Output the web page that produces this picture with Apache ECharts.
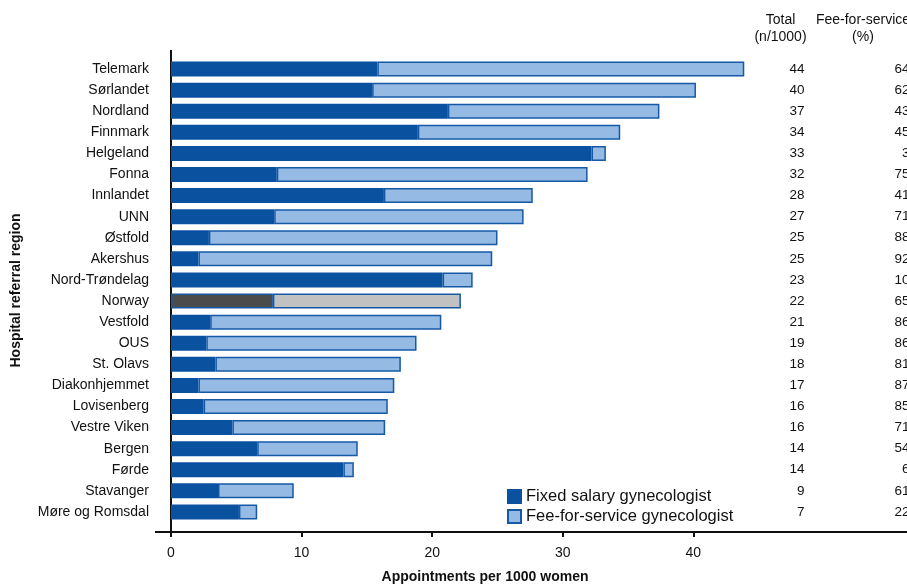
<!DOCTYPE html>
<html lang="en" style="height: 100%">
<head>
  <meta charset="utf-8">
</head>
<body style="height: 100%; margin: 0">
  <div id="container" style="width: 907px; height: 584px"></div>

  <script type="text/javascript" src="https://fastly.jsdelivr.net/npm/echarts@6.0.0/dist/echarts.min.js"></script>

  <script type="text/javascript">
    // regions, top to bottom
    var regions = ['Telemark', 'Sørlandet', 'Nordland', 'Finnmark', 'Helgeland', 'Fonna', 'Innlandet', 'UNN',
      'Østfold', 'Akershus', 'Nord-Trøndelag', 'Norway', 'Vestfold', 'OUS', 'St. Olavs', 'Diakonhjemmet',
      'Lovisenberg', 'Vestre Viken', 'Bergen', 'Førde', 'Stavanger', 'Møre og Romsdal'];

    // appointments per 1000 women, by fixed salary gynecologists
    var fixedSalary = [15.8, 15.4, 21.2, 18.9, 32.2, 8.1, 16.3, 7.9,
      2.9, 2.1, 20.8, 7.8, 3.0, 2.7, 3.4, 2.1,
      2.5, 4.7, 6.6, 13.2, 3.6, 5.2];

    // appointments per 1000 women, by fee-for-service gynecologists
    var feeForService = [28.1, 24.8, 16.2, 15.5, 1.1, 23.8, 11.4, 19.1,
      22.1, 22.5, 2.3, 14.4, 17.7, 16.1, 14.2, 15.0,
      14.1, 11.7, 7.7, 0.8, 5.8, 1.4];

    var totals = [44, 40, 37, 34, 33, 32, 28, 27, 25, 25, 23, 22, 21, 19, 18, 17, 16, 16, 14, 14, 9, 7];
    var feePct = [64, 62, 43, 45, 3, 75, 41, 71, 88, 92, 10, 65, 86, 86, 81, 87, 85, 71, 54, 6, 61, 22];

    var xTicks = [0, 10, 20, 30, 40];

    var darkBlue = '#0a51a0';
    var lightBlue = '#95bbe4';
    var edgeBlue = '#1559a6';
    var font = 'Liberation Sans';

    var dom = document.getElementById('container');
    var myChart = echarts.init(dom, null, { renderer: 'canvas' });

    // Norway is the national average, drawn in grey
    var fixedData = fixedSalary.map(function (v, i) {
      if (regions[i] === 'Norway') {
        return { value: v, itemStyle: { color: '#4b4b4b', borderColor: edgeBlue } };
      }
      return v;
    });
    var feeData = feeForService.map(function (v, i) {
      if (regions[i] === 'Norway') {
        return { value: v, itemStyle: { color: '#c1c1c1', borderColor: edgeBlue } };
      }
      return v;
    });

    // hidden category axes that only print the table columns on the right
    function columnAxis(values, offset) {
      return {
        type: 'category',
        inverse: true,
        position: 'left',
        offset: offset,
        data: regions,
        axisLine: { show: false },
        axisTick: { show: false },
        axisLabel: {
          margin: 0,
          fontFamily: font,
          fontSize: 13.5,
          color: '#111',
          formatter: function (v, i) { return String(values[i]); }
        }
      };
    }

    var option = {
      animation: false,
      backgroundColor: '#fff',
      textStyle: { fontFamily: font },
      grid: {
        left: 171,
        right: 0,
        top: 58.5,
        bottom: 61.5,
        outerBoundsMode: 'none'
      },
      legend: {
        orient: 'vertical',
        left: 502,
        top: 483,
        itemWidth: 13,
        itemHeight: 13,
        itemGap: 3,
        icon: 'rect',
        textStyle: { fontFamily: font, fontSize: 16.5, color: '#111' },
        data: ['Fixed salary gynecologist', 'Fee-for-service gynecologist']
      },
      xAxis: {
        type: 'value',
        min: 0,
        max: 56.36,
        offset: 9.5,
        splitLine: { show: false },
        axisLine: { show: true, lineStyle: { color: '#111', width: 2 } },
        axisTick: { show: true, length: 5, customValues: xTicks, lineStyle: { color: '#111', width: 2 } },
        axisLabel: { customValues: xTicks, fontFamily: font, fontSize: 14, color: '#111', margin: 14 },
        name: 'Appointments per 1000 women',
        nameLocation: 'middle',
        nameGap: 38,
        nameTextStyle: { fontFamily: font, fontSize: 14, fontWeight: 'bold', color: '#111', padding: [0, 108, 0, 0] }
      },
      yAxis: [
        {
          type: 'category',
          inverse: true,
          data: regions,
          axisLine: { show: false },
          axisTick: { show: false },
          axisLabel: { margin: 22, fontFamily: font, fontSize: 14, color: '#111' },
          name: 'Hospital referral region',
          nameLocation: 'middle',
          nameGap: 148,
          nameTextStyle: { fontFamily: font, fontSize: 14, fontWeight: 'bold', color: '#111' }
        },
        columnAxis(totals, -633.5),
        columnAxis(feePct, -738.5)
      ],
      series: [
        {
          name: 'Fixed salary gynecologist',
          type: 'bar',
          stack: 'total',
          barWidth: 15,
          itemStyle: { color: darkBlue, borderColor: darkBlue, borderWidth: 1.5 },
          data: fixedData
        },
        {
          name: 'Fee-for-service gynecologist',
          type: 'bar',
          stack: 'total',
          barWidth: 15,
          itemStyle: { color: lightBlue, borderColor: edgeBlue, borderWidth: 1.5 },
          data: feeData
        }
      ],
      graphic: [
        // y axis line and the short stub of the x axis left of it
        { type: 'line', shape: { x1: 171, y1: 50, x2: 171, y2: 533 }, style: { stroke: '#111', lineWidth: 2 } },
        { type: 'line', shape: { x1: 155, y1: 532, x2: 171, y2: 532 }, style: { stroke: '#111', lineWidth: 2 } },
        // column headers
        { type: 'text', x: 780.5, y: 12, style: { text: 'Total\n(n/1000)', align: 'center', lineHeight: 17, font: '14px "Liberation Sans"', fill: '#111' } },
        { type: 'text', x: 863, y: 12, style: { text: 'Fee-for-service\n(%)', align: 'center', lineHeight: 17, font: '14px "Liberation Sans"', fill: '#111' } }
      ]
    };

    myChart.setOption(option);
  </script>
</body>
</html>
